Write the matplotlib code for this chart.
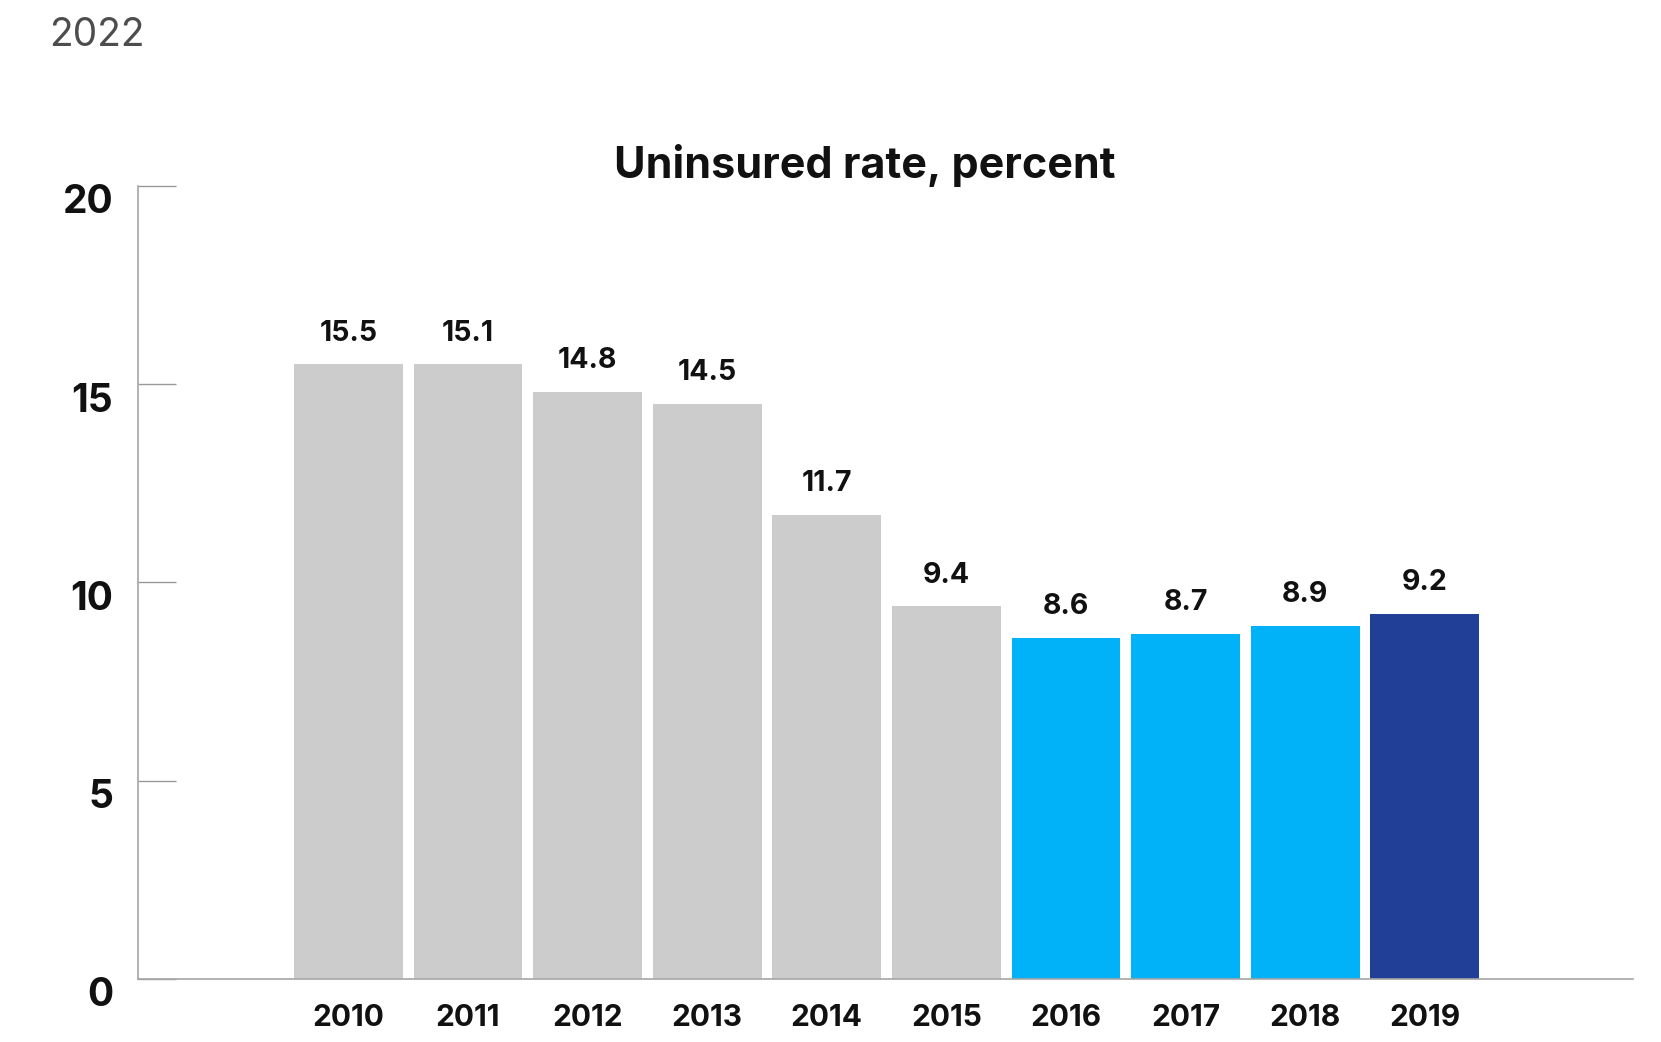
import matplotlib
matplotlib.use("Agg")
import matplotlib.pyplot as plt
import matplotlib.transforms as mtransforms

# ---- data ----------------------------------------------------------------------
years = ["2010", "2011", "2012", "2013", "2014", "2015", "2016", "2017", "2018", "2019"]
bar_heights = [15.5, 15.5, 14.8, 14.5, 11.7, 9.4, 8.6, 8.7, 8.9, 9.2]   # as drawn
value_labels = ["15.5", "15.1", "14.8", "14.5", "11.7", "9.4", "8.6", "8.7", "8.9", "9.2"]
y_ticks = [0, 5, 10, 15, 20]

GREY = "#cccccc"
LIGHT_BLUE = "#02b2f8"
DARK_BLUE = "#223f98"
bar_colors = [GREY] * 6 + [LIGHT_BLUE] * 3 + [DARK_BLUE]

plt.rcParams["font.family"] = ["Inter", "DejaVu Sans"]

fig = plt.figure(figsize=(16.61, 10.42), dpi=100)
ax = fig.add_axes([0.0831, 0.0605, 0.983 - 0.0831, 0.8215 - 0.0605])

x = list(range(len(years)))
ax.bar(x, bar_heights, width=0.91, color=bar_colors, edgecolor="none", zorder=2)

for xi, h, lab in zip(x, bar_heights, value_labels):
    ax.annotate(lab, (xi, h), xytext=(0, 22.5), textcoords="offset points",
                ha="center", va="center", fontsize=20.5, fontweight="bold", color="#111111")

ax.set_xlim(-1.76, 10.74)
ax.set_ylim(0, 20)

# axes styling
for side in ("top", "right"):
    ax.spines[side].set_visible(False)
for side in ("left", "bottom"):
    ax.spines[side].set_color("#a6a6a6")
    ax.spines[side].set_linewidth(1.2)

ax.set_yticks(y_ticks)
ax.set_yticklabels([str(t) for t in y_ticks])
ax.tick_params(axis="y", direction="in", length=27, width=1.0, color="#999999",
               pad=18, labelsize=28)
for lab in ax.get_yticklabels():
    lab.set_fontweight("bold")
    lab.set_color("#111111")
    lab.set_transform(lab.get_transform() +
                      mtransforms.ScaledTranslation(0, -13 / 100, fig.dpi_scale_trans))

ax.set_xticks(x)
ax.set_xticklabels(years)
ax.tick_params(axis="x", length=0, pad=18, labelsize=21.5)
for lab in ax.get_xticklabels():
    lab.set_fontweight("bold")
    lab.set_color("#111111")

# title and corner year
fig.text(865 / 1661, 1 - 165 / 1042, "Uninsured rate, percent", ha="center", va="center",
         fontsize=31, fontweight="bold", color="#111111")
fig.text(49 / 1661, 1 - 36 / 1042, "2022", ha="left", va="center",
         fontsize=28, fontweight="normal", color="#4d4d4d")

fig.savefig("out.png", dpi=100)
